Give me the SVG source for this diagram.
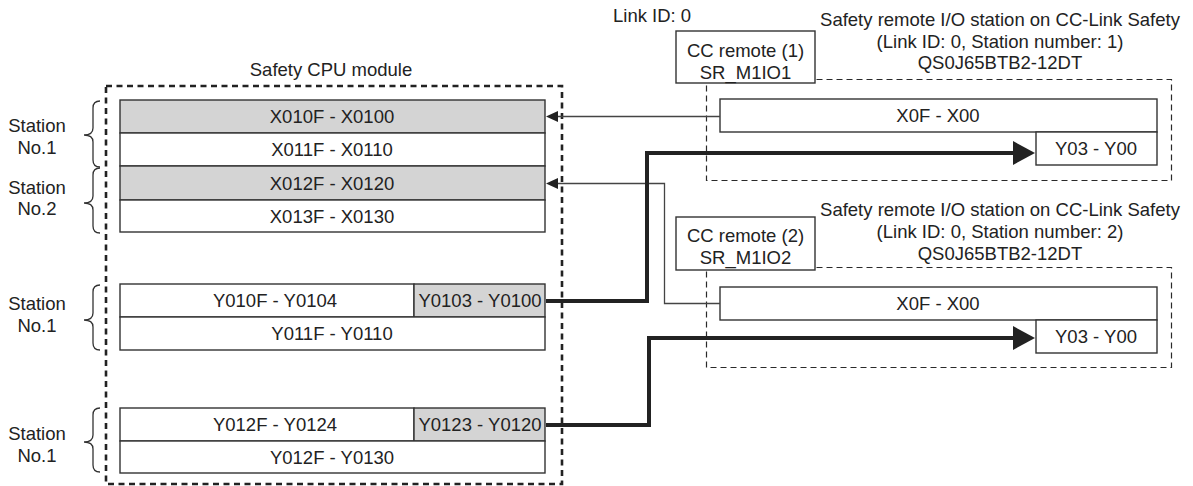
<svg xmlns="http://www.w3.org/2000/svg" width="1193" height="486" viewBox="0 0 1193 486">
<style>
text{font-family:"Liberation Sans",Arial,sans-serif;font-size:18.5px;fill:#222;}
.c{text-anchor:middle;}
.cell{fill:#fff;stroke:#333;stroke-width:1.4;}
.g{fill:#d4d4d4;}
.cpu{fill:none;stroke:#222;stroke-width:2.6;stroke-dasharray:6 4.5;}
.st{fill:none;stroke:#2a2a2a;stroke-width:1.2;stroke-dasharray:6 4;}
.brace{fill:none;stroke:#333;stroke-width:1.3;}
.thin{fill:none;stroke:#444;stroke-width:1.3;}
.thick{fill:none;stroke:#222;stroke-width:4;}
</style>
<defs>
<marker id="ah" markerUnits="userSpaceOnUse" markerWidth="13" markerHeight="11" refX="0" refY="5.5" orient="auto" overflow="visible">
<path d="M0,0 L12,5.5 L0,11 z" fill="#222"/>
</marker>
<marker id="ahb" markerUnits="userSpaceOnUse" markerWidth="23" markerHeight="25" refX="0" refY="12" orient="auto" overflow="visible">
<path d="M0,0 L22,12 L0,24 z" fill="#222"/>
</marker>
</defs>

<g id="cpu-module">
<rect class="cpu" x="106" y="86" width="456" height="398"/>
<text class="c" x="331" y="76">Safety CPU module</text>
</g>

<g id="x-rows">
<rect class="cell g" x="120" y="100" width="425" height="33"/>
<rect class="cell" x="120" y="133" width="425" height="33"/>
<rect class="cell g" x="120" y="166" width="425" height="34"/>
<rect class="cell" x="120" y="200" width="425" height="32"/>
<text class="c" x="332" y="123">X010F - X0100</text>
<text class="c" x="332" y="156">X011F - X0110</text>
<text class="c" x="332" y="190">X012F - X0120</text>
<text class="c" x="332" y="223">X013F - X0130</text>
</g>

<g id="y-rows-1">
<rect class="cell" x="120" y="284" width="294" height="33"/>
<rect class="cell g" x="414" y="284" width="131" height="33"/>
<rect class="cell" x="120" y="317" width="425" height="33"/>
<text class="c" x="275" y="307">Y010F - Y0104</text>
<text class="c" x="480" y="307">Y0103 - Y0100</text>
<text class="c" x="332" y="340">Y011F - Y0110</text>
</g>

<g id="y-rows-2">
<rect class="cell" x="120" y="408" width="294" height="33"/>
<rect class="cell g" x="414" y="408" width="131" height="33"/>
<rect class="cell" x="120" y="441" width="425" height="32"/>
<text class="c" x="275" y="431">Y012F - Y0124</text>
<text class="c" x="480" y="431">Y0123 - Y0120</text>
<text class="c" x="332" y="464">Y012F - Y0130</text>
</g>

<g id="station-labels">
<text class="c" x="37" y="132">Station</text>
<text class="c" x="37" y="154">No.1</text>
<text class="c" x="37" y="194">Station</text>
<text class="c" x="37" y="215">No.2</text>
<text class="c" x="37" y="310">Station</text>
<text class="c" x="37" y="332">No.1</text>
<text class="c" x="37" y="440">Station</text>
<text class="c" x="37" y="462">No.1</text>
<path class="brace" d="M100,101 Q93,101 93,108 L93,128 Q93,135 84,135 Q93,135 93,142 L93,160 Q93,167 100,167"/>
<path class="brace" d="M100,168 Q93,168 93,175 L93,196 Q93,203 84,203 Q93,203 93,210 L93,226 Q93,233 100,233"/>
<path class="brace" d="M100,285 Q93,285 93,292 L93,313 Q93,320 84,320 Q93,320 93,327 L93,343 Q93,350 100,350"/>
<path class="brace" d="M100,408 Q93,408 93,415 L93,435 Q93,442 84,442 Q93,442 93,449 L93,465 Q93,472 100,472"/>
</g>

<g id="remote-station-1">
<rect class="st" x="706.5" y="79.5" width="465" height="101"/>
<rect class="cell" x="676" y="31" width="139" height="52"/>
<text class="c" x="745.5" y="57">CC remote (1)</text>
<text class="c" x="745.5" y="79">SR_M1IO1</text>
<text x="613" y="22">Link ID: 0</text>
<text class="c" x="1000" y="26">Safety remote I/O station on CC-Link Safety</text>
<text class="c" x="1000" y="48">(Link ID: 0, Station number: 1)</text>
<text class="c" x="1000" y="69">QS0J65BTB2-12DT</text>
<rect class="cell" x="720" y="99" width="437" height="33"/>
<rect class="cell" x="1036" y="132" width="121" height="33"/>
<text class="c" x="938" y="122">X0F - X00</text>
<text class="c" x="1096" y="155">Y03 - Y00</text>
</g>

<g id="remote-station-2">
<rect class="st" x="706.5" y="267.5" width="465" height="100"/>
<rect class="cell" x="676" y="217" width="139" height="53"/>
<text class="c" x="745.5" y="242">CC remote (2)</text>
<text class="c" x="745.5" y="264">SR_M1IO2</text>
<text class="c" x="1000" y="216">Safety remote I/O station on CC-Link Safety</text>
<text class="c" x="1000" y="238">(Link ID: 0, Station number: 2)</text>
<text class="c" x="1000" y="260">QS0J65BTB2-12DT</text>
<rect class="cell" x="720" y="287" width="437" height="33"/>
<rect class="cell" x="1036" y="320" width="121" height="33"/>
<text class="c" x="938" y="310">X0F - X00</text>
<text class="c" x="1096" y="343">Y03 - Y00</text>
</g>

<g id="connectors">
<path class="thin" d="M720,116.5 H558" marker-end="url(#ah)"/>
<path class="thin" d="M720,303.5 H664.5 V183.5 H558" marker-end="url(#ah)"/>
<path class="thick" d="M546,301 H647 V153 H1013" marker-end="url(#ahb)"/>
<path class="thick" d="M546,425 H649 V338 H1013" marker-end="url(#ahb)"/>
</g>
</svg>
